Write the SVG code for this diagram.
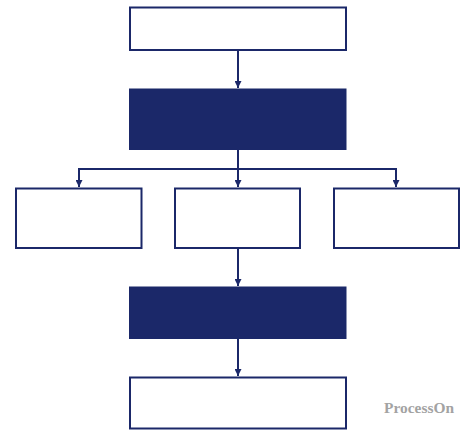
<svg xmlns="http://www.w3.org/2000/svg" width="474" height="436" viewBox="0 0 474 436">
<style>
.box{fill:#ffffff;stroke:#1b2869;stroke-width:2}
.dark{fill:#1b2869;stroke:#1b2869;stroke-width:1}
.line{fill:none;stroke:#1b2869;stroke-width:2}
.wm{font-family:"Liberation Serif",serif;font-weight:bold;font-size:15px;fill:#a3a3a3}
</style>
<defs>
<marker id="arr" viewBox="0 0 10 10" refX="10" refY="5" markerWidth="8" markerHeight="7" markerUnits="userSpaceOnUse" orient="auto">
<path d="M0,0 L10,5 L0,10 Z" fill="#1b2869"/>
</marker>
</defs>
<rect width="474" height="436" fill="#ffffff"/>
<g id="connectors">
<line class="line" x1="238" y1="50" x2="238" y2="88" marker-end="url(#arr)"/>
<line class="line" x1="238" y1="150" x2="238" y2="187" marker-end="url(#arr)"/>
<line class="line" x1="78" y1="169" x2="397" y2="169"/>
<line class="line" x1="79" y1="168" x2="79" y2="187" marker-end="url(#arr)"/>
<line class="line" x1="396" y1="168" x2="396" y2="187" marker-end="url(#arr)"/>
<line class="line" x1="238" y1="248" x2="238" y2="286" marker-end="url(#arr)"/>
<line class="line" x1="238" y1="338" x2="238" y2="376" marker-end="url(#arr)"/>
</g>
<g id="n1"><rect class="box" x="130" y="7.5" width="216" height="42.5"/></g>
<g id="n2"><rect class="dark" x="129.5" y="89" width="216.5" height="60.5"/></g>
<g id="n3"><rect class="box" x="16" y="188.5" width="125.5" height="59.5"/></g>
<g id="n4"><rect class="box" x="175" y="188.5" width="125" height="59.5"/></g>
<g id="n5"><rect class="box" x="334" y="188.5" width="125" height="59.5"/></g>
<g id="n6"><rect class="dark" x="129.5" y="287" width="216.5" height="51.5"/></g>
<g id="n7"><rect class="box" x="130" y="377.5" width="216" height="51"/></g>
<text class="wm" x="384" y="412.5" textLength="70" lengthAdjust="spacingAndGlyphs">ProcessOn</text>
</svg>
